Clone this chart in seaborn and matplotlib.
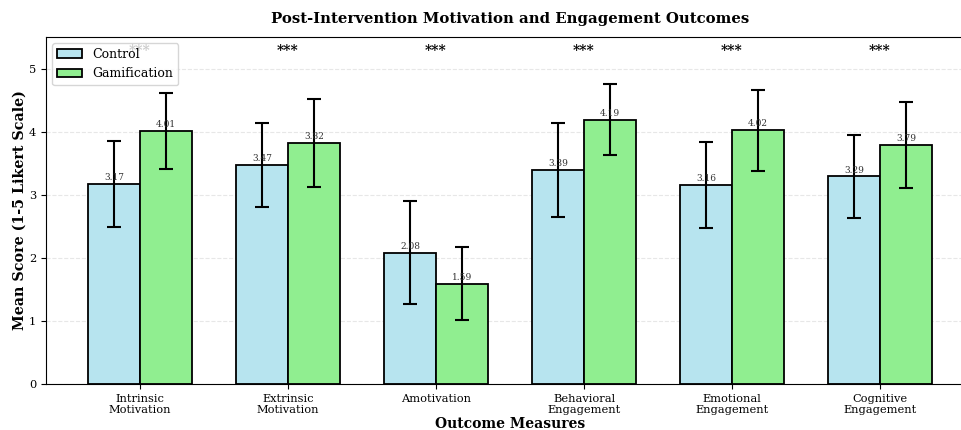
import matplotlib
matplotlib.use("Agg")
import matplotlib.pyplot as plt
import seaborn as sns
import pandas as pd
import numpy as np

categories = ["Intrinsic\nMotivation", "Extrinsic\nMotivation", "Amotivation",
              "Behavioral\nEngagement", "Emotional\nEngagement", "Cognitive\nEngagement"]
control_means = [3.17, 3.47, 2.08, 3.39, 3.16, 3.29]
gamification_means = [4.01, 3.82, 1.59, 4.19, 4.02, 3.79]
control_sd = [0.68, 0.66, 0.82, 0.75, 0.68, 0.66]
gamification_sd = [0.61, 0.70, 0.58, 0.56, 0.64, 0.68]
significance = ["***", "***", "***", "***", "***", "***"]
groups = ["Control", "Gamification"]

plt.rcParams['font.family'] = ['DejaVu Serif']

df = pd.DataFrame({
    "Measure": categories * 2,
    "Group": [groups[0]] * len(categories) + [groups[1]] * len(categories),
    "Mean": control_means + gamification_means,
    "SD": control_sd + gamification_sd,
})

fig, ax = plt.subplots(figsize=(9.62, 4.3), dpi=100)
sns.barplot(data=df, x="Measure", y="Mean", hue="Group", order=categories,
            hue_order=groups, palette=["#b7e4ef", "#90ee90"], saturation=1, width=0.7,
            errorbar=None, edgecolor="black", linewidth=1.3, ax=ax, zorder=2)

containers = ax.containers
for ci, (cont, means, sds) in enumerate(zip(containers, [control_means, gamification_means],
                                            [control_sd, gamification_sd])):
    xs = [p.get_x() + p.get_width() / 2 for p in cont.patches]
    ax.errorbar(xs, means, yerr=sds, fmt="none", ecolor="black", elinewidth=1.5,
                capsize=5, capthick=1.5, zorder=3)
    for x, m in zip(xs, means):
        ax.text(x, m + 0.03, f"{m:.2f}", ha="center", va="bottom", fontsize=6.5,
                color="#333333", zorder=4)

for i, s in enumerate(significance):
    ax.text(i, 5.16, s, ha="center", va="bottom", fontsize=10, fontweight="bold", zorder=1)

ax.set_ylim(0, 5.5)
ax.set_xlim(-0.635, 5.635)
ax.set_yticks([0, 1, 2, 3, 4, 5])
ax.grid(axis="y", linestyle="--", alpha=0.3, zorder=0)
ax.set_axisbelow(True)
ax.spines["right"].set_visible(False)
ax.tick_params(axis="both", labelsize=8.2)
ax.set_xlabel("Outcome Measures", fontsize=10, fontweight="bold", labelpad=1)
ax.set_ylabel("Mean Score (1-5 Likert Scale)", fontsize=10.3, fontweight="bold", labelpad=2)
ax.set_title("Post-Intervention Motivation and Engagement Outcomes", fontsize=10.7,
             fontweight="bold", pad=10)
leg = ax.legend(loc="upper left", fontsize=9, title=None, frameon=True)
leg.set_zorder(5)

fig.subplots_adjust(left=0.0478, right=1.0125, top=0.914, bottom=0.107)
fig.savefig("out.png", dpi=100)
